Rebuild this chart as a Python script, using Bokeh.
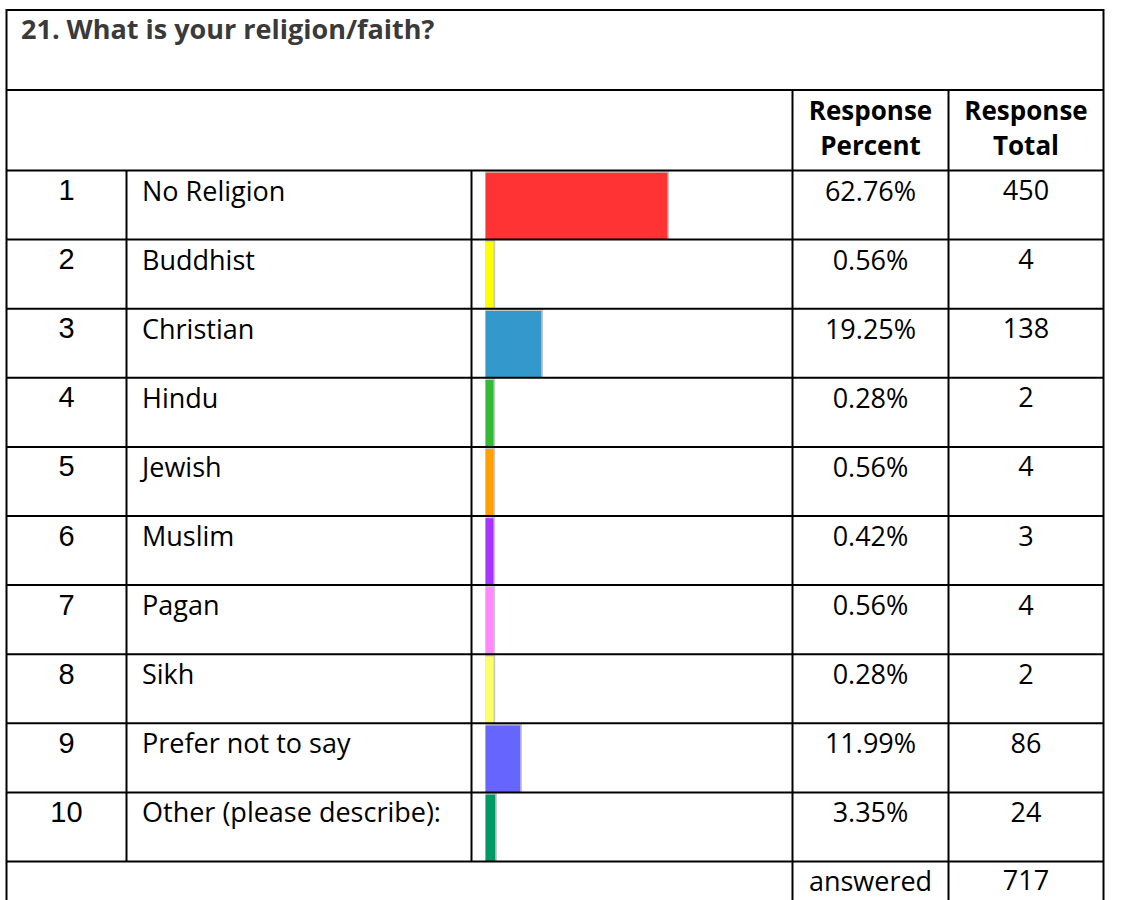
from bokeh.plotting import figure
from bokeh.models import Range1d
from bokeh.core.properties import value
from bokeh.embed import file_html
from bokeh.resources import INLINE

# ---------------- data ----------------
title = "21. What is your religion/faith?"
row_numbers = ["1", "2", "3", "4", "5", "6", "7", "8", "9", "10"]
categories = ["No Religion", "Buddhist", "Christian", "Hindu", "Jewish",
              "Muslim", "Pagan", "Sikh", "Prefer not to say",
              "Other (please describe):"]
percents = [62.76, 0.56, 19.25, 0.28, 0.56, 0.42, 0.56, 0.28, 11.99, 3.35]
totals = [450, 4, 138, 2, 4, 3, 4, 2, 86, 24]
colors = ["#FF3333", "#FFFF00", "#3399CC", "#33BB33", "#FF9F00",
          "#AA33FF", "#FF88FF", "#FFFF66", "#6666FF", "#009966"]
header_percent = ["Response", "Percent"]
header_total = ["Response", "Total"]
answered_label = "answered"
answered_total = 717

# ---------------- layout constants (page pixels) ----------------
W, H = 1120, 900
X0, Y0 = 0, 0                  # page position of the figure's top-left
ROW_TOP, ROW_H = 170.0, 69.1   # first data row top, row height
BAR_X0, PX_PER_PCT = 485.0, 2.9
MIN_BAR_PCT = 2.76             # small shares drawn with a minimum width
LEFT, RIGHT, TOP = 6, 1103, 9.5
HEAD_Y = 89.5
C_NUM, C_BAR, C_PCT, C_TOT = 126, 471, 792, 948
N = len(categories)
TS = -12.0                     # text baseline correction (px)

p = figure(width=W, height=H,
           x_range=Range1d(X0, X0 + W), y_range=Range1d(Y0 + H, Y0),
           output_backend="svg", toolbar_location=None, min_border=0)
p.axis.visible = False
p.grid.visible = False
p.outline_line_color = None
p.background_fill_color = "white"
p.border_fill_color = "white"

# row axis: row i centred at i, boundaries at i +/- 0.5
p.extra_y_ranges = {"row": Range1d((Y0 + H - ROW_TOP) / ROW_H + 0.5,
                                   (Y0 - ROW_TOP) / ROW_H + 0.5)}
# percent axis for the bars
p.extra_x_ranges = {"pct": Range1d((X0 - BAR_X0) / PX_PER_PCT,
                                   (X0 + W - BAR_X0) / PX_PER_PCT)}

rows = list(range(1, N + 1))
disp = [max(v, MIN_BAR_PCT) for v in percents]

# ---------------- bars ----------------
shadow_px = 1.7 / PX_PER_PCT
p.quad(left=[0] * N, right=[d + shadow_px for d in disp],
       top=[r - 0.5 for r in rows], bottom=[r + 0.5 for r in rows],
       fill_color="#C8C8C8", line_color=None,
       x_range_name="pct", y_range_name="row")
p.quad(left=[0] * N, right=disp,
       top=[r - 0.5 + 2.2 / ROW_H for r in rows], bottom=[r + 0.5 for r in rows],
       fill_color=colors, line_color=None,
       x_range_name="pct", y_range_name="row")

# ---------------- grid lines ----------------
LW = 2
bottom_page = Y0 + H + 10
p.segment(x0=[LEFT, LEFT, LEFT], x1=[RIGHT, RIGHT, RIGHT],
          y0=[TOP, HEAD_Y, ROW_TOP], y1=[TOP, HEAD_Y, ROW_TOP],
          line_color="black", line_width=LW)
p.segment(x0=[LEFT, RIGHT, C_PCT, C_TOT], x1=[LEFT, RIGHT, C_PCT, C_TOT],
          y0=[TOP - 1, TOP - 1, HEAD_Y, HEAD_Y],
          y1=[bottom_page] * 4, line_color="black", line_width=LW)
bounds = [r + 0.5 for r in rows]
p.segment(x0=[LEFT] * N, x1=[RIGHT] * N, y0=bounds, y1=bounds,
          line_color="black", line_width=LW, y_range_name="row")
p.segment(x0=[C_NUM, C_BAR], x1=[C_NUM, C_BAR], y0=[0.5, 0.5],
          y1=[N + 0.5, N + 0.5], line_color="black", line_width=LW,
          y_range_name="row")

# ---------------- texts ----------------
BODY = value("Open Sans")
base = [r - 0.5 + (31.5 + TS) / ROW_H for r in rows]

p.text(x=[20.5], y=[40 + TS], text=[title], text_font=BODY,
       text_font_style="bold", text_font_size="27px", text_color="#3A3A3A",
       text_align="left", text_baseline="alphabetic")

xc_pct = (C_PCT + C_TOT) / 2
xc_tot = (C_TOT + RIGHT) / 2
p.text(x=[xc_pct, xc_pct], y=[121.7 + TS, 156.7 + TS], text=header_percent,
       text_font=BODY, text_font_style="bold", text_font_size="26px",
       text_color="black", text_align="center", text_baseline="alphabetic")
p.text(x=[xc_tot, xc_tot], y=[121.7 + TS, 156.7 + TS], text=header_total,
       text_font=BODY, text_font_style="bold", text_font_size="26px",
       text_color="black", text_align="center", text_baseline="alphabetic")

p.text(x=[(LEFT + C_NUM) / 2] * N, y=base, text=row_numbers,
       text_font=value("Liberation Sans"), text_font_size="29px",
       text_color="black", text_align="center", text_baseline="alphabetic",
       y_range_name="row")
p.text(x=[141.5] * N, y=base, text=categories, text_font=BODY,
       text_font_size="27px", text_color="black", text_align="left",
       text_baseline="alphabetic", y_range_name="row")
p.text(x=[xc_pct] * N, y=base, text=[f"{v:.2f}%" for v in percents],
       text_font=BODY, text_font_size="27px", text_color="black",
       text_align="center", text_baseline="alphabetic", y_range_name="row")
p.text(x=[xc_tot] * N, y=base, text=[str(t) for t in totals],
       text_font=BODY, text_font_size="27px", text_color="black",
       text_align="center", text_baseline="alphabetic", y_range_name="row")

p.text(x=[xc_pct, xc_tot], y=[N + 0.5 + (30.7 + TS) / ROW_H] * 2,
       text=[answered_label, str(answered_total)], text_font=BODY,
       text_font_size="27px", text_color="black", text_align="center",
       text_baseline="alphabetic", y_range_name="row")

open("out.html", "w").write(file_html(p, INLINE))
